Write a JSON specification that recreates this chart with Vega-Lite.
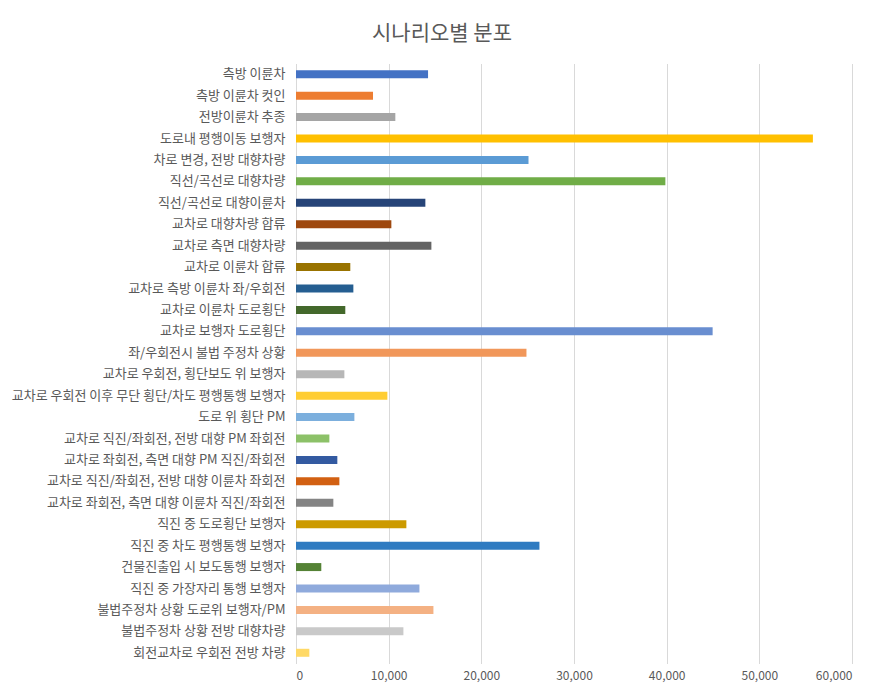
{
  "$schema": "https://vega.github.io/schema/vega-lite/v6.json",
  "width": 556,
  "height": 600,
  "autosize": {"type": "none"},
  "padding": {"left": 296, "top": 63.5, "right": 36, "bottom": 36.5},
  "background": "white",
  "title": {
    "text": "시나리오별 분포",
    "fontSize": 21,
    "font": "Noto Sans CJK KR",
    "fontWeight": "normal",
    "color": "#595959",
    "anchor": "middle",
    "dx": -132,
    "offset": 20
  },
  "data": {
    "values": [
      {"scenario": "측방 이륜차", "count": 14250},
      {"scenario": "측방 이륜차 컷인", "count": 8310},
      {"scenario": "전방이륜차 추종", "count": 10720},
      {"scenario": "도로내 평행이동 보행자", "count": 55780},
      {"scenario": "차로 변경, 전방 대향차량", "count": 25090},
      {"scenario": "직선/곡선로 대향차량", "count": 39860},
      {"scenario": "직선/곡선로 대향이륜차", "count": 13960},
      {"scenario": "교차로 대향차량 합류", "count": 10290},
      {"scenario": "교차로 측면 대향차량", "count": 14610},
      {"scenario": "교차로 이륜차 합류", "count": 5860},
      {"scenario": "교차로 측방 이륜차 좌/우회전", "count": 6190},
      {"scenario": "교차로 이륜차 도로횡단", "count": 5320},
      {"scenario": "교차로 보행자 도로횡단", "count": 44960},
      {"scenario": "좌/우회전시 불법 주정차 상황", "count": 24870},
      {"scenario": "교차로 우회전, 횡단보도 위 보행자", "count": 5220},
      {"scenario": "교차로 우회전 이후 무단 횡단/차도 평행통행 보행자", "count": 9860},
      {"scenario": "도로 위 횡단 PM", "count": 6300},
      {"scenario": "교차로 직진/좌회전, 전방 대향 PM 좌회전", "count": 3600},
      {"scenario": "교차로 좌회전, 측면 대향 PM 직진/좌회전", "count": 4460},
      {"scenario": "교차로 직진/좌회전, 전방 대향 이륜차 좌회전", "count": 4680},
      {"scenario": "교차로 좌회전, 측면 대향 이륜차 직진/좌회전", "count": 4030},
      {"scenario": "직진 중 도로횡단 보행자", "count": 11910},
      {"scenario": "직진 중 차도 평행통행 보행자", "count": 26270},
      {"scenario": "건물진출입 시 보도통행 보행자", "count": 2730},
      {"scenario": "직진 중 가장자리 통행 보행자", "count": 13320},
      {"scenario": "불법주정차 상황 도로위 보행자/PM", "count": 14830},
      {"scenario": "불법주정차 상황 전방 대향차량", "count": 11590},
      {"scenario": "회전교차로 우회전 전방 차량", "count": 1440}
    ]
  },
  "mark": {"type": "bar", "size": 8},
  "encoding": {
    "y": {
      "field": "scenario",
      "type": "nominal",
      "sort": null,
      "title": null,
      "axis": {
        "domain": false,
        "ticks": false,
        "labelFontSize": 13,
        "labelFont": "Noto Sans CJK KR",
        "labelColor": "#595959",
        "labelPadding": 11,
        "labelLimit": 400
      }
    },
    "x": {
      "field": "count",
      "type": "quantitative",
      "title": null,
      "scale": {"domain": [0, 60000], "nice": false},
      "axis": {
        "values": [0, 10000, 20000, 30000, 40000, 50000, 60000],
        "format": ",.0f",
        "domain": false,
        "ticks": false,
        "grid": true,
        "gridColor": "#D9D9D9",
        "gridWidth": 1,
        "labelFontSize": 12,
        "labelFont": "Noto Sans CJK KR",
        "labelColor": "#595959",
        "labelPadding": 7
      }
    },
    "color": {
      "field": "scenario",
      "type": "nominal",
      "sort": null,
      "legend": null,
      "scale": {
        "domain": ["측방 이륜차", "측방 이륜차 컷인", "전방이륜차 추종", "도로내 평행이동 보행자", "차로 변경, 전방 대향차량", "직선/곡선로 대향차량", "직선/곡선로 대향이륜차", "교차로 대향차량 합류", "교차로 측면 대향차량", "교차로 이륜차 합류", "교차로 측방 이륜차 좌/우회전", "교차로 이륜차 도로횡단", "교차로 보행자 도로횡단", "좌/우회전시 불법 주정차 상황", "교차로 우회전, 횡단보도 위 보행자", "교차로 우회전 이후 무단 횡단/차도 평행통행 보행자", "도로 위 횡단 PM", "교차로 직진/좌회전, 전방 대향 PM 좌회전", "교차로 좌회전, 측면 대향 PM 직진/좌회전", "교차로 직진/좌회전, 전방 대향 이륜차 좌회전", "교차로 좌회전, 측면 대향 이륜차 직진/좌회전", "직진 중 도로횡단 보행자", "직진 중 차도 평행통행 보행자", "건물진출입 시 보도통행 보행자", "직진 중 가장자리 통행 보행자", "불법주정차 상황 도로위 보행자/PM", "불법주정차 상황 전방 대향차량", "회전교차로 우회전 전방 차량"],
        "range": ["#4472C4", "#ED7D31", "#A5A5A5", "#FFC000", "#5B9BD5", "#70AD47", "#264478", "#9E480E", "#636363", "#997300", "#255E91", "#43682B", "#698ED0", "#F1975A", "#B7B7B7", "#FFCD33", "#7CAFDD", "#8CC168", "#335AA1", "#D26012", "#848484", "#CC9A00", "#2F7BC1", "#548235", "#8FAADC", "#F4B183", "#C9C9C9", "#FFD966"]
      }
    }
  },
  "config": {
    "view": {"stroke": null}
  }
}
